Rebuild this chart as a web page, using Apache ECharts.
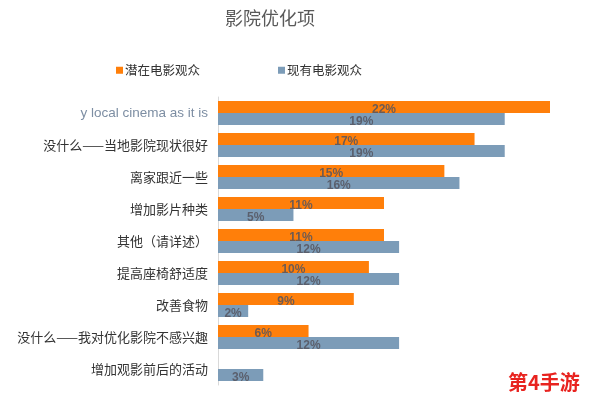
<!DOCTYPE html>
<html><head><meta charset="utf-8">
<script src="https://cdn.jsdelivr.net/npm/echarts@6/dist/echarts.min.js"></script>
<style>html,body{margin:0;padding:0;background:#fff}#c{width:594px;height:402px}</style>
</head><body><div id="c"></div>
<script>
const categories = ['y local cinema as it is','没什么——当地影院现状很好','离家跟近一些','增加影片种类','其他（请详述）','提高座椅舒适度','改善食物','没什么——我对优化影院不感兴趣','增加观影前后的活动'];
const potential = [22,17,15,11,11,10,9,6,null];
const existing = [19,19,16,5,12,12,2,12,3];
const seriesNames = ['潜在电影观众','现有电影观众'];

const chart = echarts.init(document.getElementById('c'));
const lbl = {show:true, position:'inside', offset:[0,3], formatter: p => p.value + '%', color:'rgba(85,85,95,0.85)', fontWeight:'bold', fontSize:12, fontFamily:'Liberation Sans, Arial'};
chart.setOption({
  animation:false,
  title:{text:'影院优化项', left:265, top:4, textAlign:'center', textStyle:{fontSize:18, fontWeight:'normal', color:'#595959', fontFamily:'Noto Sans CJK SC'}},
  legend:{top:59, left:111, itemGap:78, itemWidth:7, itemHeight:7, icon:'rect', textStyle:{fontSize:12.5, color:'#333', fontFamily:'Noto Sans CJK SC', padding:[0,0,0,-3]}, data:seriesNames},
  grid:{left:218, right:44, top:97, bottom:17},
  xAxis:{type:'value', min:0, max:22, show:false},
  yAxis:{type:'category', inverse:true,
    data: categories.map((c,i)=> i===0 ? {value:c, textStyle:{color:'#7d8ea3', fontFamily:'Liberation Sans, Arial', fontSize:13.5}} : c),
    axisLine:{show:true, lineStyle:{color:'#d9d9d9'}}, axisTick:{show:false},
    axisLabel:{color:'#333', fontSize:13, margin:10, fontFamily:'Noto Sans CJK SC'}},
  series:[
    {name:seriesNames[0], type:'bar', data:potential, barWidth:12, barGap:'0%', itemStyle:{color:'#ff7f0a'}, label:lbl},
    {name:seriesNames[1], type:'bar', data:existing, barWidth:12, barGap:'0%', itemStyle:{color:'#7c9cb8'}, label:lbl}
  ],
  graphic:[{type:'text', left:508, top:372, style:{text:'第4手游', fill:'#e8231f', font:'bold 20px "Noto Sans CJK SC"'}}]
});
</script></body></html>
